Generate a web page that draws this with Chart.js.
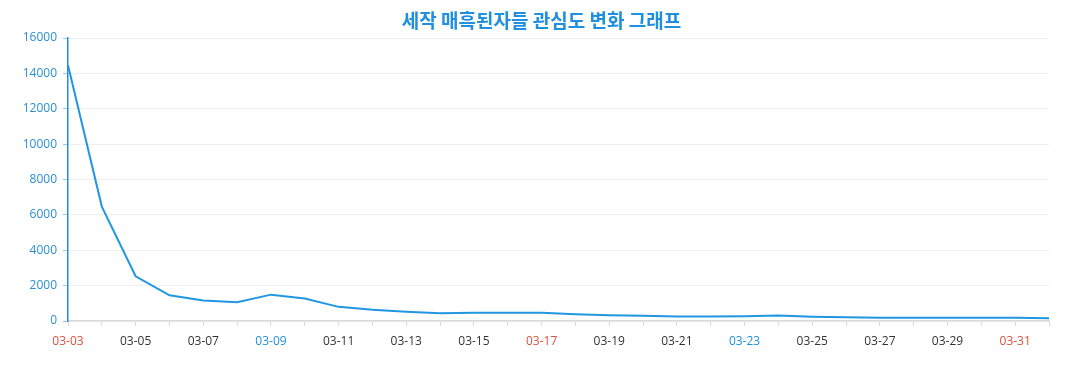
<!DOCTYPE html>
<html>
<head>
<meta charset="utf-8">
<script src="https://cdn.jsdelivr.net/npm/chart.js@4"></script>
<style>
  html, body { margin: 0; padding: 0; background: #fff; }
  #wrap { position: relative; width: 1077px; height: 390px; }
  #title {
    position: absolute; left: 3px; top: 8px; width: 1077px; text-align: center;
    font-family: 'Noto Sans CJK KR', 'Noto Sans', sans-serif; font-size: 19px; font-weight: bold;
    color: #1f8fdf; line-height: 24px;
  }
</style>
</head>
<body>
<div id="wrap">
  <div id="title">세작 매흑된자들 관심도 변화 그래프</div>
  <canvas id="trendChart" width="1077" height="390"></canvas>
</div>
<script>
// dates (03-03 .. 04-01)
const dates = ['03-03','03-04','03-05','03-06','03-07','03-08','03-09','03-10','03-11','03-12',
               '03-13','03-14','03-15','03-16','03-17','03-18','03-19','03-20','03-21','03-22',
               '03-23','03-24','03-25','03-26','03-27','03-28','03-29','03-30','03-31','04-01'];
// interest values
const interest = [14460, 6470, 2530, 1450, 1160, 1060, 1490, 1270, 800, 630,
                  520, 440, 460, 470, 470, 380, 330, 290, 250, 250,
                  270, 310, 240, 210, 190, 190, 180, 190, 190, 160];
// day kinds for label colour: 'sun', 'sat' or ''
const dayKind = ['sun','','','','','','sat','sun','','',
                 '','','','sat','sun','','','','','',
                 'sat','sun','','','','','','sat','sun',''];
const yTicks = [0, 2000, 4000, 6000, 8000, 10000, 12000, 14000, 16000];

const blue = '#1f8fdf';
const ctx = document.getElementById('trendChart').getContext('2d');

new Chart(ctx, {
    type: 'line',
    data: {
        labels: dates,
        datasets: [{
            label: '관심도',
            data: interest,
            borderColor: '#2196e3',
            borderWidth: 2,
            pointRadius: 0,
            tension: 0,
            fill: false
        }]
    },
    options: {
        responsive: false,
        animation: false,
        layout: {padding: {left: 0, right: 28, top: 38, bottom: 0}},
        plugins: {
            legend: {display: false},
            tooltip: {enabled: false},
            title: {display: false}
        },
        scales: {
            x: {
                grid: {display: true, drawOnChartArea: false, color: '#d9d9d9', tickLength: 5},
                border: {color: '#d9d9d9', width: 1.5},
                ticks: {
                    autoSkip: false,
                    maxRotation: 0,
                    padding: 8,
                    font: {family: "'Open Sans', sans-serif", size: 12},
                    color: c => dayKind[c.index] === 'sun' ? '#e0503a' : (dayKind[c.index] === 'sat' ? '#1f8fdf' : '#333'),
                    callback: (v, i) => i % 2 === 0 ? dates[i] : ''
                },
                afterFit: s => { s.height = 69; }
            },
            y: {
                min: 0,
                max: 16000,
                afterBuildTicks: s => { s.ticks = yTicks.map(v => ({value: v})); },
                grid: {color: '#efefef', tickColor: '#9cc8ea', tickLength: 5},
                border: {color: blue, width: 1.5},
                ticks: {
                    padding: 6,
                    color: '#2a8fd6',
                    font: {family: "'Open Sans', sans-serif", size: 12},
                    callback: v => String(v)
                },
                afterFit: s => { s.width = 68; }
            }
        }
    }
});
</script>
</body>
</html>
